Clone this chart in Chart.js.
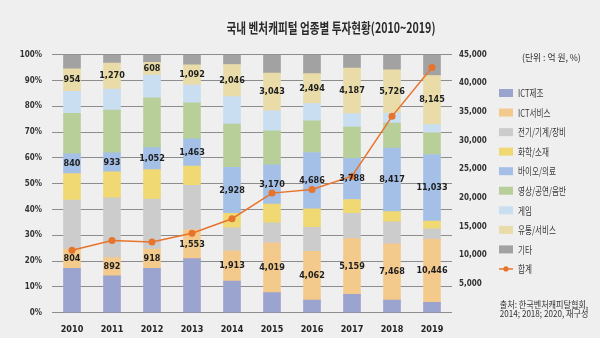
<!DOCTYPE html>
<html>
<head>
<meta charset="utf-8">
<script src="https://cdn.jsdelivr.net/npm/chart.js@4"></script>
<style>
  html, body { margin: 0; padding: 0; background: #efefef; }
  #wrap { position: relative; width: 600px; height: 338px; overflow: hidden; background: #efefef; }
  canvas { position: absolute; left: 0; top: 0; }
  .txt { position: absolute; white-space: nowrap; font-family: "Noto Sans CJK KR", "Noto Sans", sans-serif; color: #2a2a2a; }
  #title { left: 331px; top: 20px; font-size: 14px; line-height: 14px; font-weight: 700; transform: translateX(-50%) scaleX(0.76); }
  #unit { left: 522px; top: 52px; font-size: 9.5px; line-height: 10px; color: #333; transform: scaleX(0.92); transform-origin: left; }
  .src { right: 12px; font-size: 9px; line-height: 9px; color: #333; transform: scaleX(0.9); transform-origin: right; }
</style>
</head>
<body>
<div id="wrap">
  <canvas id="chart" width="600" height="338"></canvas>
  <div class="txt" id="title">국내 벤처캐피털 업종별 투자현황(2010~2019)</div>
  <div class="txt" id="unit">(단위 : 억 원, %)</div>
  <div class="txt src" style="top:300px">출처: 한국벤처캐피탈협회,</div>
  <div class="txt src" style="top:309px">2014; 2018; 2020, 재구성</div>
</div>
<script>
// 억 원
const years = ["2010", "2011", "2012", "2013", "2014", "2015", "2016", "2017", "2018", "2019"];
const ictMfg   = [1877, 1806, 2121, 2900, 2016, 1627, 1054, 1690, 1678, 1711];
const ictSvc   = [804, 892, 918, 1553, 1913, 4019, 4062, 5159, 7468, 10446];
const elecMach = [2084, 2915, 2393, 2380, 1459, 1627, 2000, 2309, 2911, 1754];
const chemMat  = [1113, 1270, 1406, 1038, 918, 1502, 1548, 1285, 1370, 1283];
const bioMed   = [840, 933, 1052, 1463, 2928, 3170, 4686, 3788, 8417, 11033];
const media    = [1713, 2085, 2380, 1924, 2754, 2753, 2645, 2904, 3322, 3593];
const game     = [927, 1024, 1085, 955, 1738, 1627, 1441, 1238, 1336, 1369];
const retail   = [954, 1270, 608, 1092, 2046, 3043, 2494, 4187, 5726, 8145];
const etc      = [598, 413, 370, 540, 621, 1490, 1573, 1243, 2021, 3443];
const totals   = [10910, 12608, 12333, 13845, 16393, 20858, 21503, 23803, 34249, 42777];

const categories = ["ICT제조", "ICT서비스", "전기/기계/장비", "화학/소재", "바이오/의료", "영상/공연/음반", "게임", "유통/서비스", "기타"];
const series = [ictMfg, ictSvc, elecMach, chemMat, bioMed, media, game, retail, etc];
const colors = ["#9ba3cf", "#f3c98c", "#cccccc", "#f0d872", "#a5c0e6", "#b9cf99", "#c9def0", "#e9dca9", "#a2a2a2"];
const labeled = [1, 4, 7]; // ICT서비스, 바이오/의료, 유통/서비스 amounts shown
const lineColor = "#e8742c";

const numFont = "'Liberation Sans Narrow', 'DejaVu Sans Condensed', sans-serif";

const datasets = series.map((s, k) => ({
  type: "bar",
  label: categories[k],
  data: s.map((v, i) => v / totals[i] * 100),
  amounts: s,
  backgroundColor: colors[k],
  borderWidth: 0,
  stack: "share",
  yAxisID: "y",
  order: 1,
  barThickness: 17
}));
datasets.push({
  type: "line",
  label: "합계",
  data: totals,
  yAxisID: "y1",
  stack: "total",
  order: 0,
  borderColor: lineColor,
  backgroundColor: lineColor,
  borderWidth: 1.5,
  pointRadius: 3.5,
  pointBackgroundColor: lineColor,
  pointBorderWidth: 0,
  tension: 0
});

const extras = {
  id: "extras",
  afterDatasetsDraw(chart){
    const ctx = chart.ctx;
    ctx.save();
    ctx.font = "bold 9px " + numFont;
    ctx.fillStyle = "#1e1e1e";
    ctx.textAlign = "center";
    ctx.textBaseline = "middle";
    labeled.forEach(k => {
      const meta = chart.getDatasetMeta(k);
      meta.data.forEach((el, i) => {
        const cy = (el.y + el.base) / 2;
        ctx.fillText(series[k][i].toLocaleString("en-US"), el.x, cy);
      });
    });
    ctx.restore();
  },
  afterDraw(chart){
    // legend on the right
    const ctx = chart.ctx;
    const x0 = 499, y0 = 93, step = 19.55;
    ctx.save();
    ctx.textBaseline = "middle";
    chart.data.datasets.forEach((ds, i) => {
      const y = y0 + i * step;
      if (ds.type === "line"){
        ctx.strokeStyle = lineColor;
        ctx.lineWidth = 1.5;
        ctx.beginPath();
        ctx.moveTo(x0, y);
        ctx.lineTo(x0 + 14, y);
        ctx.stroke();
        ctx.fillStyle = lineColor;
        ctx.beginPath();
        ctx.arc(x0 + 7, y, 2.6, 0, Math.PI * 2);
        ctx.fill();
      } else {
        ctx.fillStyle = ds.backgroundColor;
        ctx.fillRect(x0, y - 4, 14, 8);
      }
      ctx.save();
      ctx.translate(x0 + 19, y + 0.5);
      ctx.scale(0.76, 1);
      ctx.font = "10px 'Noto Sans CJK KR', sans-serif";
      ctx.fillStyle = "#3a3a3a";
      ctx.fillText(ds.label, 0, 0);
      ctx.restore();
    });
    ctx.restore();
  }
};

new Chart(document.getElementById("chart"), {
  data: { labels: years, datasets },
  options: {
    responsive: false,
    animation: false,
    layout: { padding: { left: 0, right: 100, top: 54.7, bottom: 0 } },
    plugins: { legend: { display: false }, tooltip: { enabled: false }, title: { display: false } },
    scales: {
      x: {
        stacked: true,
        grid: { display: false },
        border: { display: false },
        ticks: { padding: 4, color: "#222", font: { family: numFont, size: 9, weight: "bold" } },
        afterFit(scale){ scale.height = 25.3; }
      },
      y: {
        stacked: true,
        min: 0, max: 100,
        ticks: { stepSize: 10, padding: 10, color: "#333", font: { family: numFont, size: 8, weight: "bold" }, callback: v => v + "%" },
        grid: { color: "#8c8c8c", lineWidth: 1, drawTicks: false },
        border: { display: false },
        afterFit(scale){ scale.width = 52; }
      },
      y1: {
        position: "right",
        min: 0, max: 45000,
        ticks: { stepSize: 5000, padding: 7, color: "#333", font: { family: numFont, size: 8, weight: "bold" },
          callback: v => v === 0 ? "" : v.toLocaleString("en-US") },
        grid: { display: false, drawTicks: false },
        border: { display: false },
        afterFit(scale){ scale.width = 48; }
      }
    }
  },
  plugins: [extras]
});
</script>
</body>
</html>
